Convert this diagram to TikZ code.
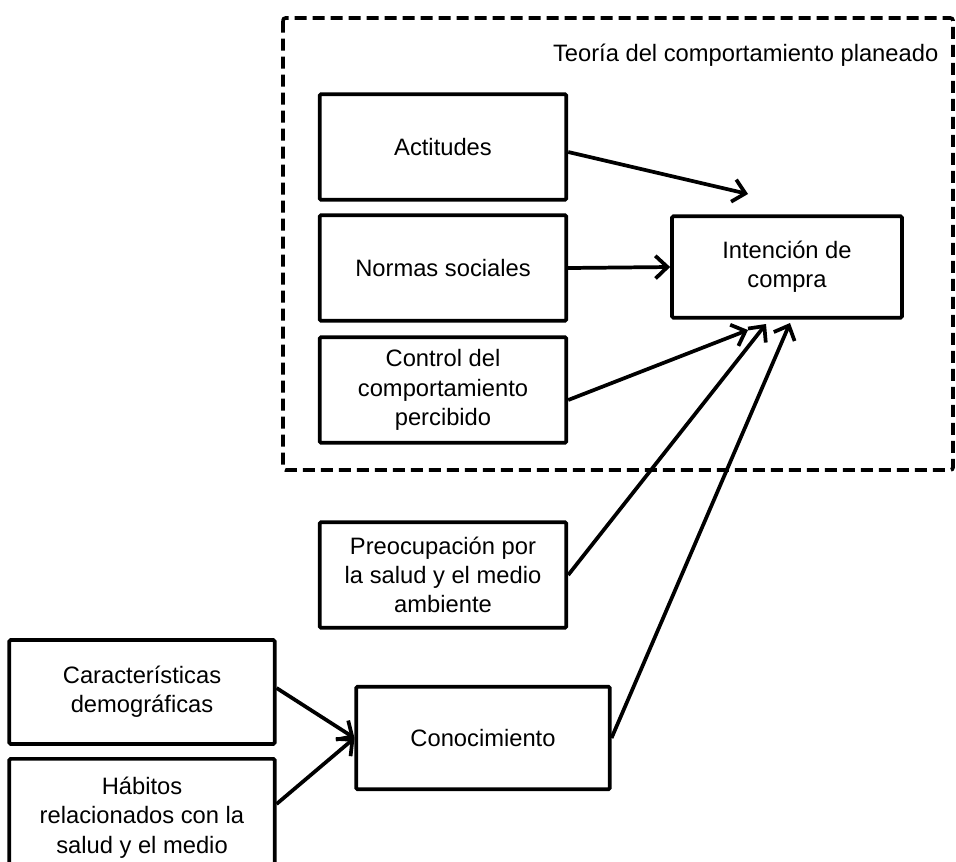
\documentclass[tikz,border=0pt]{standalone}
\usepackage{fontspec}
\setmainfont{Liberation Sans}
\usetikzlibrary{arrows.meta}
\tikzset{
  factor/.style={draw, line width=2.8pt, rounded corners=1pt, align=center,
    minimum width=185pt, minimum height=79pt, inner sep=2pt,
    font=\fontsize{17.8}{22}\selectfont},
  link/.style={line width=2.8pt, -{Straight Barb[length=9pt,width=17pt]}},
}
\begin{document}
\begin{tikzpicture}[x=0.75pt,y=-0.75pt]
\useasboundingbox (0,0) rectangle (956,861);
% marco de la teoria
\draw [line width=2.8pt, dash pattern=on 9pt off 4.5pt, rounded corners=2pt]
  (283,18) rectangle (953,470);
\node [anchor=east, font=\fontsize{17.8}{22}\selectfont] (teoria) at (943,55)
  {Teoría del comportamiento planeado};
\node [factor] (actitudes) at (443,147) {Actitudes};
\node [factor] (normas) at (443,268) {Normas sociales};
\node [factor] (control) at (443,390) {Control del\\comportamiento\\percibido};
\node [factor, minimum width=172.5pt, minimum height=76pt] (intencion) at (787,267)
  {Intención de\\compra};
\node [factor] (preocupacion) at (443,575)
  {Preocupación por\\la salud y el medio\\ambiente};
\node [factor, minimum width=199pt, minimum height=78pt] (caracteristicas) at (142,692)
  {Características\\demográficas};
\node [factor, minimum width=199pt, minimum height=88pt, anchor=north] (habitos) at (142,757)
  {Hábitos\\relacionados con la\\salud y el medio};
\node [factor, minimum width=190pt, minimum height=77pt] (conocimiento) at (483,738)
  {Conocimiento};
% puntas libres
\coordinate (tipA) at (748,194);
\coordinate (tipC) at (748,330);
\coordinate (tipP) at (766,324);
\coordinate (tipK) at (790,323);
% flechas
\draw [link] (actitudes.east |- 0,152) -- (tipA);
\draw [link] (normas.east) -- (intencion.west);
\draw [link] (control.east |- 0,400) -- (tipC);
\draw [link] (preocupacion.east) -- (tipP);
\draw [link] (conocimiento.east) -- (tipK);
\draw [link] (caracteristicas.east |- 0,688) -- (conocimiento.west);
\draw [link] (habitos.east |- 0,804) -- (conocimiento.west);
\end{tikzpicture}
\end{document}
